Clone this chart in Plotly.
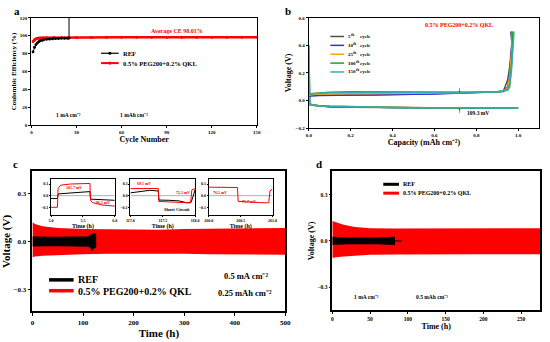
import plotly.graph_objects as go

SERIF = "Liberation Serif"
RED = "#ff0000"
W, H = 550, 342

# ---------------- Panel a: Coulombic efficiency ----------------
a_ref_cycle = [1, 2, 3, 4, 5, 6, 7, 8, 10, 12, 14, 16, 18, 20, 22, 24, 25, 25]
a_ref_ce = [82, 87, 90, 92, 93.5, 94.5, 95, 95.5, 96, 96.3, 96.5, 96.7, 96.9, 97, 97.1, 97.2, 97.3, 130]
a_qkl_cycle = [1, 2, 3, 4, 5, 6, 8, 10, 15, 20, 30, 40, 50, 60, 70, 80, 90, 100, 110, 120, 130, 140, 150]
a_qkl_ce = [93.5, 95.5, 96.5, 97, 97.3, 97.5, 97.7, 97.8, 97.9, 98.0, 98.0, 98.0, 98.1, 98.1, 98.1,
            98.1, 98.1, 98.1, 98.1, 98.1, 98.1, 98.1, 98.1]

# ---------------- Panel b: voltage profiles ----------------
b_cycles = ["5", "10", "25", "100", "150"]
b_colors = ["#505050", "#3030e0", "#ffa020", "#20a030", "#30b0b0"]
b_chg_cap = [0.0, 0.01, 0.05, 0.1, 0.2, 0.3, 0.4, 0.5, 0.6, 0.7, 0.8, 0.9, 0.93, 0.95, 0.96, 0.97, 0.975]
b_chg_v = [
    [0.03, 0.035, 0.038, 0.04, 0.04, 0.04, 0.042, 0.045, 0.05, 0.055, 0.058, 0.062, 0.07, 0.15, 0.25, 0.42, 0.5],
    [0.03, 0.035, 0.036, 0.037, 0.038, 0.038, 0.04, 0.043, 0.048, 0.052, 0.056, 0.06, 0.066, 0.1, 0.2, 0.4, 0.5],
    [0.035, 0.042, 0.048, 0.05, 0.05, 0.05, 0.05, 0.052, 0.055, 0.057, 0.06, 0.063, 0.07, 0.09, 0.18, 0.38, 0.5],
    [0.04, 0.05, 0.055, 0.06, 0.063, 0.063, 0.06, 0.058, 0.058, 0.058, 0.06, 0.064, 0.068, 0.08, 0.12, 0.3, 0.5],
    [0.04, 0.048, 0.052, 0.056, 0.058, 0.058, 0.057, 0.056, 0.057, 0.058, 0.06, 0.064, 0.068, 0.075, 0.1, 0.25, 0.5],
]
b_chg_end = [0.965, 0.968, 0.972, 0.975, 0.98]
b_dis_cap = [0.0, 0.005, 0.02, 0.05, 0.1, 0.2, 0.3, 0.4, 0.5, 0.6, 0.7, 0.8, 0.9, 1.0]
b_dis_v = [
    [-0.02, -0.03, -0.035, -0.04, -0.045, -0.048, -0.05, -0.05, -0.052, -0.053, -0.054, -0.055, -0.055, -0.056],
    [-0.02, -0.03, -0.035, -0.04, -0.045, -0.047, -0.049, -0.05, -0.052, -0.053, -0.054, -0.055, -0.055, -0.056],
    [-0.02, -0.03, -0.035, -0.04, -0.042, -0.045, -0.05, -0.05, -0.051, -0.053, -0.054, -0.055, -0.055, -0.055],
    [0.4, -0.025, -0.032, -0.038, -0.042, -0.046, -0.05, -0.05, -0.052, -0.053, -0.054, -0.055, -0.055, -0.055],
    [0.4, -0.025, -0.032, -0.038, -0.042, -0.046, -0.05, -0.05, -0.052, -0.053, -0.054, -0.055, -0.055, -0.055],
]

# ---------------- Panel c: symmetric cell 0.5 mA cm-2 ----------------
c_qkl_t = [0, 5, 20, 50, 100, 150, 200, 250, 300, 350, 400, 450, 500]
c_qkl_hi = [0.12, 0.11, 0.095, 0.085, 0.078, 0.076, 0.074, 0.074, 0.078, 0.08, 0.084, 0.085, 0.085]
c_qkl_lo = [-0.10, -0.095, -0.09, -0.085, -0.08, -0.078, -0.077, -0.077, -0.078, -0.08, -0.082, -0.083, -0.083]
c_ref_t = [0, 20, 50, 80, 110, 115, 118, 120, 125, 126]
c_ref_hi = [0.03, 0.028, 0.028, 0.03, 0.03, 0.04, 0.045, 0.05, 0.05, 0.02]
c_ref_lo = [-0.03, -0.028, -0.028, -0.03, -0.032, -0.04, -0.06, -0.045, -0.04, -0.01]

# insets of panel c
i1_t_qkl = [5.0, 5.1, 5.11, 5.15, 5.3, 5.45, 5.61, 5.62, 5.65, 5.8, 6.0]
i1_v_qkl = [-0.10, -0.10, 0.06, 0.09, 0.10, 0.103, 0.105, -0.04, -0.06, -0.08, -0.09]
i1_t_ref = [5.0, 5.1, 5.11, 5.3, 5.61, 5.62, 5.8, 6.0]
i1_v_ref = [-0.025, -0.025, 0.015, 0.025, 0.035, -0.03, -0.035, -0.04]
i2_t_qkl = [117.0, 117.2, 117.43, 117.44, 117.6, 117.8, 117.93, 117.95, 118.0]
i2_v_qkl = [0.06, 0.062, 0.062, -0.05, -0.055, -0.06, -0.062, 0.05, 0.06]
i2_t_ref = [117.0, 117.1, 117.3, 117.43, 117.44, 117.6, 117.75, 117.88, 117.94, 118.0]
i2_v_ref = [0.024, 0.03, 0.046, 0.04, -0.038, -0.04, -0.045, -0.062, -0.055, 0.05]
i3_t_qkl = [260.0, 260.2, 260.45, 260.46, 260.6, 260.8, 260.94, 260.96, 261.0]
i3_v_qkl = [0.073, 0.072, 0.07, -0.049, -0.055, -0.06, -0.062, 0.04, 0.06]

# ---------------- Panel d: symmetric cell 1 mA cm-2 ----------------
d_qkl_t = [0, 5, 15, 30, 50, 80, 100, 150, 200, 250, 275]
d_qkl_hi = [0.13, 0.12, 0.105, 0.09, 0.082, 0.08, 0.08, 0.082, 0.083, 0.083, 0.083]
d_qkl_lo = [-0.11, -0.105, -0.1, -0.095, -0.09, -0.088, -0.087, -0.086, -0.086, -0.086, -0.086]
d_ref_t = [0, 20, 40, 60, 80, 83]
d_ref_hi = [0.025, 0.02, 0.02, 0.02, 0.025, 0.025]
d_ref_lo = [-0.025, -0.02, -0.02, -0.02, -0.025, -0.025]
d_ref_tail_t = [83, 92]
d_ref_tail_v = [0.0, 0.0]

CM2 = "cm⁻²"

fig = go.Figure()

# ---- a
fig.add_trace(go.Scatter(x=a_qkl_cycle, y=a_qkl_ce, mode="lines+markers", line=dict(color=RED, width=2.5),
                         marker=dict(size=3, color=RED), xaxis="x", yaxis="y", showlegend=False))
fig.add_trace(go.Scatter(x=a_ref_cycle, y=a_ref_ce, mode="lines+markers", line=dict(color="black", width=1),
                         marker=dict(size=3, color="black"), xaxis="x", yaxis="y", showlegend=False))

# ---- b
for i in range(5):
    fig.add_trace(go.Scatter(x=b_dis_cap, y=b_dis_v[i], mode="lines", line=dict(color=b_colors[i], width=1.5),
                             xaxis="x2", yaxis="y2", showlegend=False))
for i in range(5):
    cap = b_chg_cap[:-1] + [b_chg_end[i]]
    fig.add_trace(go.Scatter(x=cap, y=b_chg_v[i], mode="lines", line=dict(color=b_colors[i], width=1.5),
                             xaxis="x2", yaxis="y2", showlegend=False))

# ---- c
fig.add_trace(go.Scatter(x=c_qkl_t, y=c_qkl_hi, mode="lines", line=dict(color=RED, width=0),
                         xaxis="x3", yaxis="y3", showlegend=False))
fig.add_trace(go.Scatter(x=c_qkl_t, y=c_qkl_lo, mode="lines", line=dict(color=RED, width=0), fill="tonexty",
                         fillcolor=RED, xaxis="x3", yaxis="y3", showlegend=False))
fig.add_trace(go.Scatter(x=c_ref_t, y=c_ref_hi, mode="lines", line=dict(color="black", width=0.5),
                         xaxis="x3", yaxis="y3", showlegend=False))
fig.add_trace(go.Scatter(x=c_ref_t, y=c_ref_lo, mode="lines", line=dict(color="black", width=0.5), fill="tonexty",
                         fillcolor="black", xaxis="x3", yaxis="y3", showlegend=False))

# insets
for ax_i, xs in [("5", (5.0, 6.0)), ("6", (117.0, 118.0)), ("7", (260.0, 261.0))]:
    fig.add_trace(go.Scatter(x=list(xs), y=[0, 0], mode="lines", line=dict(color="#b0b0b0", width=1),
                             xaxis="x" + ax_i, yaxis="y" + ax_i, showlegend=False))
fig.add_trace(go.Scatter(x=i1_t_ref, y=i1_v_ref, mode="lines", line=dict(color="black", width=1),
                         xaxis="x5", yaxis="y5", showlegend=False))
fig.add_trace(go.Scatter(x=i1_t_qkl, y=i1_v_qkl, mode="lines", line=dict(color=RED, width=1),
                         xaxis="x5", yaxis="y5", showlegend=False))
fig.add_trace(go.Scatter(x=i2_t_ref, y=i2_v_ref, mode="lines", line=dict(color="black", width=1),
                         xaxis="x6", yaxis="y6", showlegend=False))
fig.add_trace(go.Scatter(x=i2_t_qkl, y=i2_v_qkl, mode="lines", line=dict(color=RED, width=1),
                         xaxis="x6", yaxis="y6", showlegend=False))
fig.add_trace(go.Scatter(x=i3_t_qkl, y=i3_v_qkl, mode="lines", line=dict(color=RED, width=1),
                         xaxis="x7", yaxis="y7", showlegend=False))

# ---- d
fig.add_trace(go.Scatter(x=d_qkl_t, y=d_qkl_hi, mode="lines", line=dict(color=RED, width=0),
                         xaxis="x4", yaxis="y4", showlegend=False))
fig.add_trace(go.Scatter(x=d_qkl_t, y=d_qkl_lo, mode="lines", line=dict(color=RED, width=0), fill="tonexty",
                         fillcolor=RED, xaxis="x4", yaxis="y4", showlegend=False))
fig.add_trace(go.Scatter(x=d_ref_tail_t, y=d_ref_tail_v, mode="lines", line=dict(color="black", width=1),
                         xaxis="x4", yaxis="y4", showlegend=False))
fig.add_trace(go.Scatter(x=d_ref_t, y=d_ref_hi, mode="lines", line=dict(color="black", width=0.5),
                         xaxis="x4", yaxis="y4", showlegend=False))
fig.add_trace(go.Scatter(x=d_ref_t, y=d_ref_lo, mode="lines", line=dict(color="black", width=0.5), fill="tonexty",
                         fillcolor="black", xaxis="x4", yaxis="y4", showlegend=False))


def px(x0, x1):
    return [x0 / W, x1 / W]


def py(y0, y1):
    return [1 - y1 / H, 1 - y0 / H]


def axis(domain, rng, anchor, tickvals=None, dtick=None, fs=5, title="", tfs=8, standoff=2,
         tickformat=None, ticklen=2, lw=1.2):
    d = dict(domain=domain, range=rng, anchor=anchor, showline=True, mirror=True, linecolor="black",
             linewidth=lw, ticks="outside", ticklen=ticklen, tickcolor="black", tickwidth=1,
             showgrid=False, zeroline=False,
             tickfont=dict(family=SERIF, size=fs, color="black", weight="bold"),
             title=dict(text=title, font=dict(family=SERIF, size=tfs, color="black", weight="bold"),
                        standoff=standoff))
    if tickvals is not None:
        d["tickvals"] = tickvals
    if dtick is not None:
        d["dtick"] = dtick
    if tickformat is not None:
        d["tickformat"] = tickformat
    return d


IFS = 4  # inset tick font size

layout = dict(
    width=W, height=H, margin=dict(l=0, r=0, t=0, b=0), paper_bgcolor="white", plot_bgcolor="white",
    showlegend=False,
    xaxis=axis(px(27, 257), [0, 150], "y", dtick=30, title="Cycle Number", tfs=8),
    yaxis=axis(py(16, 125), [0, 120], "x", dtick=20, title="Coulombic Efficiency (%)", tfs=7),
    xaxis2=axis(px(310, 545), [0, 1.1], "y2", tickvals=[0, 0.2, 0.4, 0.6, 0.8, 1.0], tickformat=".1f",
                title="Capacity (mAh " + CM2 + ")", tfs=8),
    yaxis2=axis(py(16, 128), [-0.2, 0.6], "x2", dtick=0.2, tickformat=".1f", title="Voltage (V)", tfs=8),
    xaxis3=axis(px(28, 286), [0, 500], "y3", dtick=100, fs=7, title="Time (h)", tfs=11, ticklen=3, lw=1.5),
    yaxis3=axis(py(172, 314), [-0.44, 0.44], "x3", tickvals=[-0.3, 0, 0.3], tickformat=".1f", fs=7,
                title="Voltage (V)", tfs=11, ticklen=3, lw=1.5),
    xaxis4=axis(px(334, 546), [0, 275], "y4", dtick=50, fs=5.5, title="Time (h)", tfs=8, lw=1.5),
    yaxis4=axis(py(172, 313), [-0.45, 0.45], "x4", tickvals=[-0.3, 0, 0.3], tickformat=".1f", fs=5.5,
                title="Voltage (V)", tfs=8, lw=1.5),
    xaxis5=axis(px(47, 112), [5.0, 6.0], "y5", tickvals=[5.0, 5.5, 6.0], tickformat=".1f", fs=IFS,
                title="Time (h)", tfs=6, standoff=1, ticklen=1, lw=1),
    yaxis5=axis(py(180, 216), [-0.165, 0.14], "x5", tickvals=[-0.1, 0, 0.1], tickformat=".1f", fs=IFS,
                ticklen=1, lw=1),
    xaxis6=axis(px(128, 194), [117.0, 118.0], "y6", tickvals=[117.0, 117.5, 118.0], tickformat=".1f", fs=IFS,
                title="Time (h)", tfs=6, standoff=1, ticklen=1, lw=1),
    yaxis6=axis(py(180, 216), [-0.165, 0.14], "x6", tickvals=[-0.1, 0, 0.1], tickformat=".1f", fs=IFS,
                ticklen=1, lw=1),
    xaxis7=axis(px(208, 273), [260.0, 261.0], "y7", tickvals=[260.0, 260.5, 261.0], tickformat=".1f", fs=IFS,
                title="Time (h)", tfs=6, standoff=1, ticklen=1, lw=1),
    yaxis7=axis(py(180, 216), [-0.165, 0.14], "x7", tickvals=[-0.1, 0, 0.1], tickformat=".1f", fs=IFS,
                ticklen=1, lw=1),
)
fig.update_layout(**layout)

ann = []
shapes = []


def text(x, y, s, size=6, color="black", xanchor="center", bold=True):
    ann.append(dict(x=x / W, y=1 - y / H, xref="paper", yref="paper", text=s, showarrow=False,
                    xanchor=xanchor, yanchor="middle",
                    font=dict(family=SERIF, size=size, color=color, weight="bold" if bold else "normal")))


def legline(x0, x1, y, color, width):
    shapes.append(dict(type="line", xref="paper", yref="paper", x0=x0 / W, x1=x1 / W, y0=1 - y / H,
                       y1=1 - y / H, line=dict(color=color, width=width)))


def legdot(x, y, color):
    shapes.append(dict(type="circle", xref="paper", yref="paper", x0=(x - 1.6) / W, x1=(x + 1.6) / W,
                       y0=1 - (y + 1.6) / H, y1=1 - (y - 1.6) / H, fillcolor=color, line=dict(width=0)))


# panel letters
text(12, 9, "a", 11)
text(289, 9, "b", 11)
text(11, 164, "c", 11)
text(320, 164, "d", 11)

# panel a annotations
text(176, 29, "Average CE 98.01%", 6, RED)
legline(98, 116, 52, "black", 1.2)
legline(98, 116, 62, RED, 2)
legdot(107, 52, "black")
legdot(107, 62, RED)
text(118, 52, "REF", 6.5, xanchor="left")
text(118, 62, "0.5% PEG200+0.2% QKL", 6.5, xanchor="left")
text(65, 115, "1 mA " + CM2, 5.5)
text(132, 115, "1 mAh " + CM2, 5.5)

# panel b annotations
text(463, 23, "0.5% PEG200+0.2% QKL", 6, RED)
for i, yy in enumerate([35, 44, 53, 62, 71]):
    legline(332, 346, yy, b_colors[i], 1.5)
    text(348, yy, b_cycles[i], 5, xanchor="left")
    text(348 + 2.6 * len(b_cycles[i]), yy - 1.5, "th", 3.5, xanchor="left")
    text(360, yy, "cycle", 5, xanchor="left")
ann.append(dict(x=0.72, y=0.06, xref="x2", yref="y2", ax=0.72, ay=0.1, axref="x2", ayref="y2",
                showarrow=True, arrowhead=1, arrowsize=0.6, arrowwidth=0.6, text=""))
ann.append(dict(x=0.72, y=-0.06, xref="x2", yref="y2", ax=0.72, ay=-0.1, axref="x2", ayref="y2",
                showarrow=True, arrowhead=1, arrowsize=0.6, arrowwidth=0.6, text=""))
ann.append(dict(x=0.745, y=-0.09, xref="x2", yref="y2", text="109.3 mV", showarrow=False, xanchor="left",
                font=dict(family=SERIF, size=5.5, color="black", weight="bold")))

# panel c annotations
legline(45, 70, 282, "black", 3.5)
legline(45, 70, 293, RED, 3.5)
text(72, 282, "REF", 10, xanchor="left")
text(72, 294, "0.5% PEG200+0.2% QKL", 10, xanchor="left")
text(246, 278, "0.5 mA " + CM2, 8.5)
text(245, 295, "0.25 mAh " + CM2, 8.5)

# inset labels
text(70, 188, "105.7 mV", 4, RED)
text(100, 203, "96.1 mV", 4, RED)
text(142, 184, "69.5 mV", 4, RED)
text(182, 193, "72.2 mV", 4, RED)
text(175, 211, "Short Circuit", 4.5)
text(219, 193, "76.2 mV", 4, RED)
text(249, 202, "75.7 mV", 4, RED)

# panel d annotations
legline(386, 402, 185, "black", 3)
legline(386, 402, 194, RED, 3)
text(404, 185, "REF", 6, xanchor="left")
text(404, 194, "0.5% PEG200+0.2% QKL", 6, xanchor="left")
text(369, 299, "1 mA " + CM2, 5.5)
text(436, 299, "0.5 mAh " + CM2, 5.5)

fig.update_layout(annotations=ann, shapes=shapes)
fig.write_html("out.html", config={"displayModeBar": False},
               post_script="document.body.style.margin='0';document.body.style.overflow='hidden';")
